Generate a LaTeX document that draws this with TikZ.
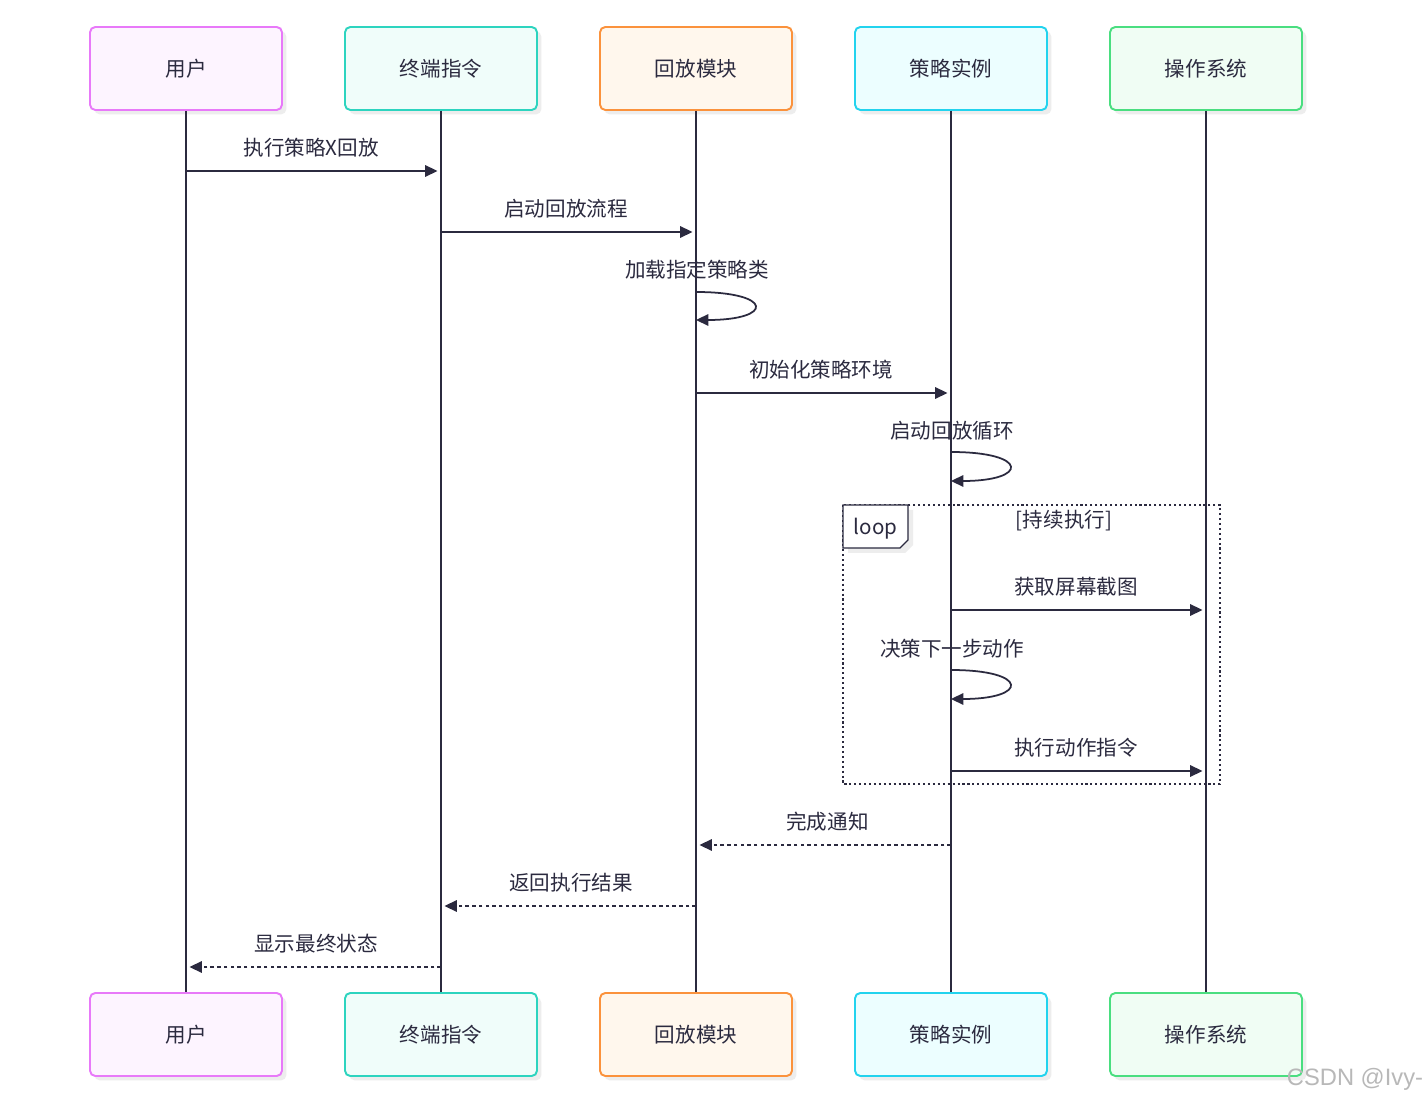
\documentclass[tikz,border=0pt]{standalone}
\usepackage{fontspec}
\setmainfont{Noto Sans CJK SC}
\newfontfamily\markfont{Liberation Sans}
\usetikzlibrary{arrows.meta,shadows}

\definecolor{ink}{HTML}{2B2A3F}
\definecolor{userline}{HTML}{E879F9}
\definecolor{userfill}{HTML}{FDF4FF}
\definecolor{termline}{HTML}{2DD4BF}
\definecolor{termfill}{HTML}{F0FDFA}
\definecolor{playline}{HTML}{FB923C}
\definecolor{playfill}{HTML}{FFF7ED}
\definecolor{stratline}{HTML}{22D3EE}
\definecolor{stratfill}{HTML}{ECFEFF}
\definecolor{osline}{HTML}{4ADE80}
\definecolor{osfill}{HTML}{F0FDF4}

\tikzset{
  actor/.style={draw, rounded corners=3pt, line width=1.1pt, minimum width=3.84cm, minimum height=1.66cm,
    drop shadow={shadow xshift=2.5pt, shadow yshift=-2.5pt, fill=black!7, opacity=1}},
  life/.style={line width=1.15pt, draw=ink},
  msg/.style={line width=1pt, draw=ink, shorten >=2pt, -{Triangle[length=7pt,width=6.5pt]}},
  selfmsg/.style={msg, shorten >=0pt},
  reply/.style={msg, dash pattern=on 2pt off 1.8pt},
  lbl/.style={midway, yshift=0.47cm},
}

\begin{document}
\begin{tikzpicture}[x=0.02cm, y=-0.02cm, every node/.style={text=ink, font=\fontsize{11.7}{13}\selectfont}]
  \useasboundingbox[fill=white] (0,0) rectangle (1428,1104);

  % participants, top and bottom
  \node[actor, draw=userline, fill=userfill] (userT) at (186,68.5) {用户};
  \node[actor, draw=termline, fill=termfill] (termT) at (441,68.5) {终端指令};
  \node[actor, draw=playline, fill=playfill] (playT) at (696,68.5) {回放模块};
  \node[actor, draw=stratline, fill=stratfill] (stratT) at (951,68.5) {策略实例};
  \node[actor, draw=osline, fill=osfill] (osT) at (1206,68.5) {操作系统};

  \node[actor, draw=userline, fill=userfill] (userB) at (186,1034.5) {用户};
  \node[actor, draw=termline, fill=termfill] (termB) at (441,1034.5) {终端指令};
  \node[actor, draw=playline, fill=playfill] (playB) at (696,1034.5) {回放模块};
  \node[actor, draw=stratline, fill=stratfill] (stratB) at (951,1034.5) {策略实例};
  \node[actor, draw=osline, fill=osfill] (osB) at (1206,1034.5) {操作系统};

  % lifelines
  \draw[life] (userT.south) -- (userB.north);
  \draw[life] (termT.south) -- (termB.north);
  \draw[life] (playT.south) -- (playB.north);
  \draw[life] (stratT.south) -- (stratB.north);
  \draw[life] (osT.south) -- (osB.north);

  % loop frame
  \draw[ink, line width=1.1pt, dash pattern=on 1.2pt off 1.6pt] (843,505) rectangle (1220,784);
  \fill[black!7] (848,510) -- (913,510) -- (913,545) -- (905,553) -- (848,553) -- cycle;
  \draw[ink, line width=0.8pt, fill=white] (843,505) -- (908,505) -- (908,540) -- (900,548) -- (843,548) -- cycle;
  \node (loopTag) at (875.5,529) {loop};
  \node (loopCond) at (1064,521) {[持续执行]};

  % messages
  \draw[msg] (userT |- 0,171) -- node[lbl, xshift=-0.05cm] {执行策略X回放} (termT |- 0,171);
  \draw[msg] (termT |- 0,232) -- node[lbl, xshift=-0.05cm] {启动回放流程} (playT |- 0,232);

  \node (selfLoad) at (697,270) {加载指定策略类};
  \coordinate (loadA) at (696,292);
  \coordinate (loadB) at (696,320);
  \draw[selfmsg] (loadA) .. controls +(78,0) and +(78,0) .. (loadB);

  \draw[msg] (playT |- 0,393) -- node[lbl, xshift=-0.05cm] {初始化策略环境} (stratT |- 0,393);

  \node (selfLoop) at (952,431) {启动回放循环};
  \coordinate (runA) at (951,452);
  \coordinate (runB) at (951,481);
  \draw[selfmsg] (runA) .. controls +(78,0) and +(78,0) .. (runB);

  \draw[msg] (stratT |- 0,610) -- node[lbl, xshift=-0.05cm] {获取屏幕截图} (osT |- 0,610);

  \node (selfDecide) at (952,649) {决策下一步动作};
  \coordinate (decA) at (951,670);
  \coordinate (decB) at (951,699);
  \draw[selfmsg] (decA) .. controls +(78,0) and +(78,0) .. (decB);

  \draw[msg] (stratT |- 0,771) -- node[lbl, xshift=-0.05cm] {执行动作指令} (osT |- 0,771);

  \draw[reply] (stratT |- 0,845) -- node[lbl, xshift=0.08cm] {完成通知} (playT |- 0,845);
  \draw[reply] (playT |- 0,906) -- node[lbl, xshift=0.05cm] {返回执行结果} (termT |- 0,906);
  \draw[reply] (termT |- 0,967) -- node[lbl, xshift=0.05cm] {显示最终状态} (userT |- 0,967);

  \node[text=black!28, font=\markfont\fontsize{13.5}{15}\selectfont] (mark) at (1355,1079) {CSDN @Ivy-};
\end{tikzpicture}
\end{document}
